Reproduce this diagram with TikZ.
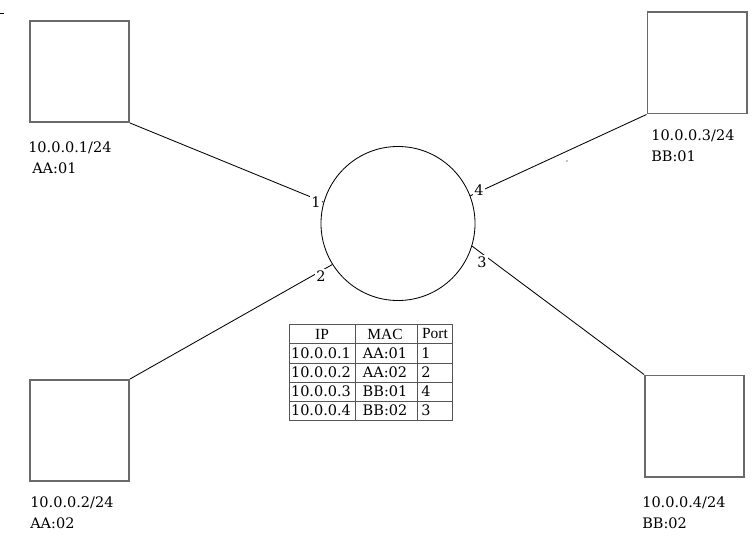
\documentclass[tikz,border=0pt]{standalone}
\usepackage{fontspec}
\setmainfont{DejaVu Serif}
\newfontfamily\headfont{Liberation Serif}

\begin{document}
\begin{tikzpicture}[x=0.025cm, y=-0.025cm]
    \definecolor{boxColour}{HTML}{6A6A6A}
    \definecolor{gridColour}{HTML}{555555}

    \tikzset{
        host/.style={draw=boxColour, line width=1.4pt, minimum width=2.475cm, minimum height=2.525cm, inner sep=0pt},
        hosttext/.style={anchor=west, inner sep=0pt, font=\fontsize{10.3}{12}\selectfont},
        link/.style={line width=0.6pt},
        portlabel/.style={fill=white, inner sep=1.2pt, font=\fontsize{10.3}{12}\selectfont},
        cell/.style={inner sep=0pt, font=\fontsize{10.3}{12}\selectfont},
        headcell/.style={inner sep=0pt, font=\headfont\fontsize{11}{12}\selectfont}
    }

    \useasboundingbox (0,0) rectangle (753,537);

    % Draw hosts
    \node[host] (h1) at (79.5,71.5) {};
    \node[host] (h2) at (79.5,430.5) {};
    \node[host] (h3) at (697,63) {};
    \node[host] (h4) at (694.5,426) {};

    % Host addresses
    \node[hosttext] (h1ip) at (28,148) {10.0.0.1/24};
    \node[hosttext] (h1mac) at (32,168) {AA:01};
    \node[hosttext] (h2ip) at (30,503) {10.0.0.2/24};
    \node[hosttext] (h2mac) at (30,523) {AA:02};
    \node[hosttext] (h3ip) at (651,136) {10.0.0.3/24};
    \node[hosttext] (h3mac) at (651,156) {BB:01};
    \node[hosttext] (h4ip) at (642,503) {10.0.0.4/24};
    \node[hosttext] (h4mac) at (642,523) {BB:02};

    % Draw switch
    \node[draw, circle, line width=0.6pt, minimum size=3.85cm, inner sep=0pt] (sw) at (398,223.5) {};

    % Draw links
    \draw[link] (h1.south east) -- (sw.164);
    \draw[link] (h2.north east) -- (sw.212);
    \draw[link] (h4.north west) -- (sw.-17);
    \draw[link] (h3.south west) -- (sw.21);

    % Port numbers
    \node[portlabel] (p1) at (316,202) {1};
    \node[portlabel] (p2) at (321,276) {2};
    \node[portlabel] (p3) at (482,262) {3};
    \node[portlabel] (p4) at (479,190) {4};

    % Draw MAC table
    \draw[gridColour, line width=0.7pt] (289,324) rectangle (452,420);
    \foreach \y in {343,363,382,401}
        \draw[gridColour, line width=0.7pt] (289,\y) -- (452,\y);
    \foreach \x in {355,417}
        \draw[gridColour, line width=0.7pt] (\x,324) -- (\x,420);

    \node[headcell] (hip) at (322,334) {IP};
    \node[headcell] (hmac) at (385,334) {MAC};
    \node[headcell] (hport) at (435,334) {Port};

    \foreach \r/\y/\ip/\mac/\port in {1/353/10.0.0.1/AA:01/1, 2/372/10.0.0.2/AA:02/2, 3/391/10.0.0.3/BB:01/4, 4/410/10.0.0.4/BB:02/3}
    {
        \node[cell] (ip\r) at (321,\y) {\ip};
        \node[cell] (mac\r) at (385,\y) {\mac};
        \node[cell, anchor=west] (port\r) at (421,\y) {\port};
    }

    % Stray marks
    \draw[line width=0.6pt] (0,13) -- (4,13);
    \fill (567,161) circle (0.6);

\end{tikzpicture}
\end{document}
